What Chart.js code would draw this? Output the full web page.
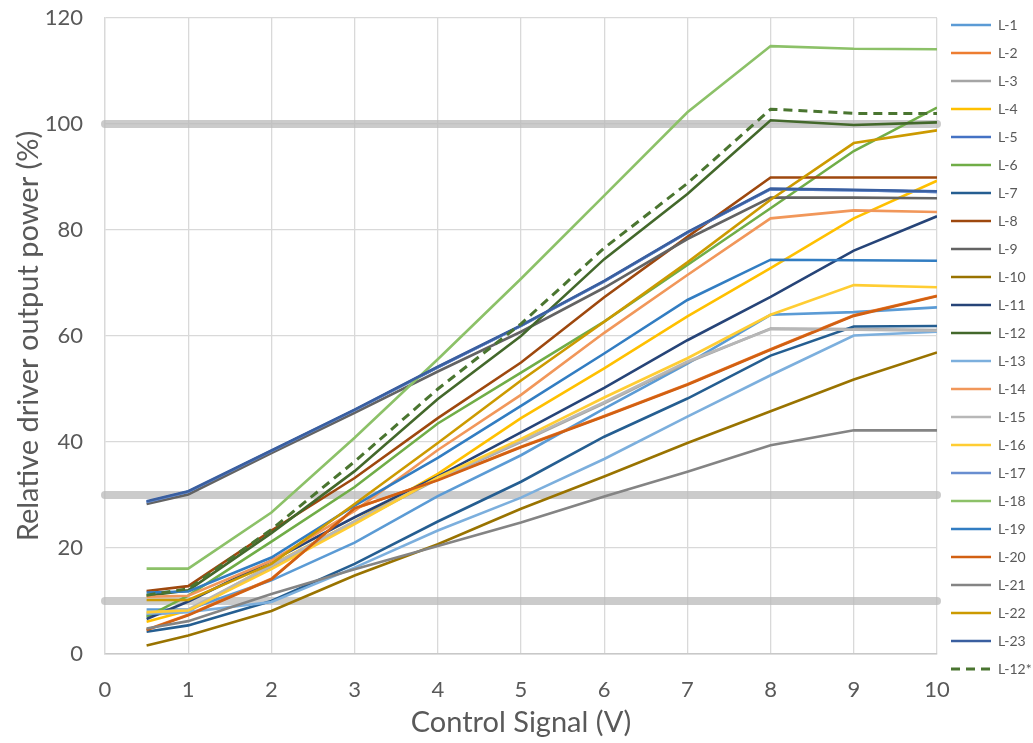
<!DOCTYPE html>
<html><head><meta charset="utf-8">
<script src="https://cdn.jsdelivr.net/npm/chart.js@4.4.1/dist/chart.umd.min.js"></script>
<style>html,body{margin:0;padding:0;background:#fff;}#wrap{width:1033px;height:743px;}</style>
</head><body><div id="wrap"><canvas id="c" width="1033" height="743"></canvas></div>
<script>
const xValues = [0.5, 1, 2, 3, 4, 5, 6, 7, 8, 9, 10];
const L1  = [8.4, 8.4, 13.9, 21.0, 29.8, 37.5, 46.3, 54.8, 64.0, 64.5, 65.4];
const L2  = [4.6, 7.4, 14.2, 27.4, 32.9, 39.1, 44.9, 50.9, 57.5, 63.9, 67.6];
const L3  = [7.3, 8.0, 16.5, 24.8, 33.0, 40.0, 47.3, 55.0, 61.4, 61.3, 61.1];
const L4  = [6.1, 8.2, 16.8, 25.0, 34.0, 44.5, 53.9, 63.7, 72.8, 82.2, 89.3];
const L5  = [28.7, 30.6, 38.3, 46.0, 54.1, 61.9, 70.3, 79.5, 87.7, 87.5, 87.2];
const L6  = [7.0, 11.0, 21.2, 31.5, 43.5, 53.1, 62.7, 73.4, 84.1, 94.9, 103.1];
const L7  = [4.2, 5.4, 10.0, 17.0, 25.0, 32.5, 41.0, 48.2, 56.3, 61.8, 61.9];
const L8  = [11.9, 12.8, 23.3, 33.2, 44.5, 55.0, 67.3, 78.7, 89.9, 89.9, 89.9];
const L9  = [28.3, 30.1, 37.9, 45.5, 53.3, 60.8, 69.1, 78.3, 86.1, 86.1, 86.0];
const L10 = [1.6, 3.5, 8.1, 14.8, 20.7, 27.4, 33.5, 39.8, 45.8, 51.8, 56.9];
const L11 = [6.6, 9.9, 17.6, 25.8, 33.5, 41.8, 50.2, 59.2, 67.4, 76.1, 82.6];
const L12 = [11.0, 12.0, 22.8, 34.5, 48.1, 60.0, 74.5, 86.8, 100.7, 99.8, 100.3];
const L13 = [7.6, 7.9, 9.8, 16.3, 23.3, 29.5, 36.8, 44.8, 52.6, 60.1, 60.8];
const L14 = [10.8, 11.0, 17.6, 27.0, 38.5, 48.9, 60.6, 71.5, 82.2, 83.7, 83.4];
const L15 = [7.8, 8.4, 16.7, 25.0, 33.2, 40.2, 47.5, 55.2, 61.3, 61.2, 61.0];
const L16 = [7.9, 8.2, 16.0, 24.5, 33.3, 40.6, 48.4, 55.8, 64.0, 69.6, 69.2];
const L17 = [28.7, 30.6, 38.3, 46.0, 54.1, 61.9, 70.3, 79.5, 87.7, 87.5, 87.2];
const L18 = [16.1, 16.1, 26.7, 40.8, 55.6, 70.8, 86.5, 102.2, 114.7, 114.2, 114.1];
const L19 = [11.6, 11.8, 18.2, 28.0, 37.0, 46.8, 56.7, 66.8, 74.4, 74.3, 74.2];
const L20 = [4.5, 7.3, 14.1, 27.5, 32.8, 39.0, 44.8, 50.8, 57.4, 63.8, 67.5];
const L21 = [4.8, 6.2, 11.3, 16.0, 20.4, 24.8, 29.7, 34.4, 39.4, 42.2, 42.2];
const L22 = [10.2, 10.2, 17.0, 28.3, 39.8, 51.6, 62.7, 73.9, 85.7, 96.4, 98.8];
const L23 = [28.8, 30.7, 38.4, 46.1, 54.2, 62.0, 70.4, 79.6, 87.8, 87.6, 87.3];
const L12star = [11.1, 12.3, 23.5, 36.3, 50.0, 62.3, 76.6, 88.8, 102.8, 102.0, 102.0];

const seriesNames = ['L-1','L-2','L-3','L-4','L-5','L-6','L-7','L-8','L-9','L-10','L-11','L-12',
  'L-13','L-14','L-15','L-16','L-17','L-18','L-19','L-20','L-21','L-22','L-23','L-12*'];
const seriesValues = [L1,L2,L3,L4,L5,L6,L7,L8,L9,L10,L11,L12,L13,L14,L15,L16,L17,L18,L19,L20,L21,L22,L23,L12star];
const seriesColors = ['#5B9BD5','#ED7D31','#A5A5A5','#FFC000','#4472C4','#70AD47','#255E91','#9E480E',
  '#636363','#997300','#264478','#43682B','#7CAFDD','#F1975A','#B7B7B7','#FFCD33','#698ED0','#8CC168',
  '#327DC2','#D26012','#848484','#CC9A00','#3A5FA0','#4A7530'];
const bandLevels = [10, 30, 100];
const bandRange = [0, 10];

const textColor = '#595959';
const FONT = 'Lato, "Liberation Sans", sans-serif';

const datasets = seriesNames.map((name, i) => ({
  label: name,
  data: xValues.map((x, k) => ({x: x, y: seriesValues[i][k]})),
  borderColor: seriesColors[i],
  backgroundColor: seriesColors[i],
  borderWidth: name === 'L-12*' ? 3 : 2.6,
  borderDash: name === 'L-12*' ? [9, 6] : [],
  pointRadius: 0,
  pointHoverRadius: 0,
  pointStyle: 'line',
  tension: 0,
  order: 100 - i
}));
bandLevels.forEach(level => {
  datasets.push({
    label: 'band',
    data: bandRange.map(x => ({x: x, y: level})),
    borderColor: 'rgba(185,185,185,0.75)',
    backgroundColor: 'rgba(185,185,185,0.75)',
    borderWidth: 8,
    borderCapStyle: 'round',
    pointRadius: 0,
    clip: false,
    order: 1000
  });
});

new Chart(document.getElementById('c'), {
  type: 'line',
  data: { datasets },
  options: {
    responsive: false,
    animation: false,
    devicePixelRatio: 1,
    layout: { padding: { top: 4, right: 2, left: 0, bottom: 0 } },
    plugins: {
      tooltip: { enabled: false },
      legend: {
        position: 'right',
        align: 'start',
        maxWidth: 94,
        labels: {
          usePointStyle: true,
          pointStyleWidth: 40,
          padding: 14,
          color: textColor,
          font: { family: FONT, size: 14 },
          generateLabels: chart => {
            const items = Chart.defaults.plugins.legend.labels.generateLabels(chart);
            items.forEach(it => {
              const ds = chart.data.datasets[it.datasetIndex];
              it.lineDash = ds.borderDash;
              it.lineWidth = ds.borderWidth;
              it.strokeStyle = ds.borderColor;
            });
            return items;
          },
          filter: item => item.text !== 'band',
          sort: (a, b) => a.datasetIndex - b.datasetIndex
        }
      }
    },
    scales: {
      x: {
        type: 'linear',
        min: 0, max: 10,
        ticks: { stepSize: 1, color: textColor, font: { family: FONT, size: 22 }, padding: 23 },
        grid: { color: '#d9d9d9', lineWidth: 1.3, drawTicks: false },
        border: { color: '#c8c8c8', width: 1.5 },
        title: { display: true, text: 'Control Signal (V)', color: textColor, font: { family: FONT, size: 29 }, padding: { top: 0, bottom: 3 } },
        afterFit: s => { s.height = 89; }
      },
      y: {
        min: 0, max: 120,
        ticks: { stepSize: 20, color: textColor, font: { family: FONT, size: 22 }, padding: 22 },
        grid: { color: '#d9d9d9', lineWidth: 1.3, drawTicks: false },
        border: { color: '#d9d9d9', width: 1.3 },
        title: { display: true, text: 'Relative driver output power (%)', color: textColor, font: { family: FONT, size: 29 }, padding: { top: 11, bottom: 0 } },
        afterFit: s => { s.width = 105; s.paddingTop = 18; }
      }
    }
  }
});
</script></body></html>
